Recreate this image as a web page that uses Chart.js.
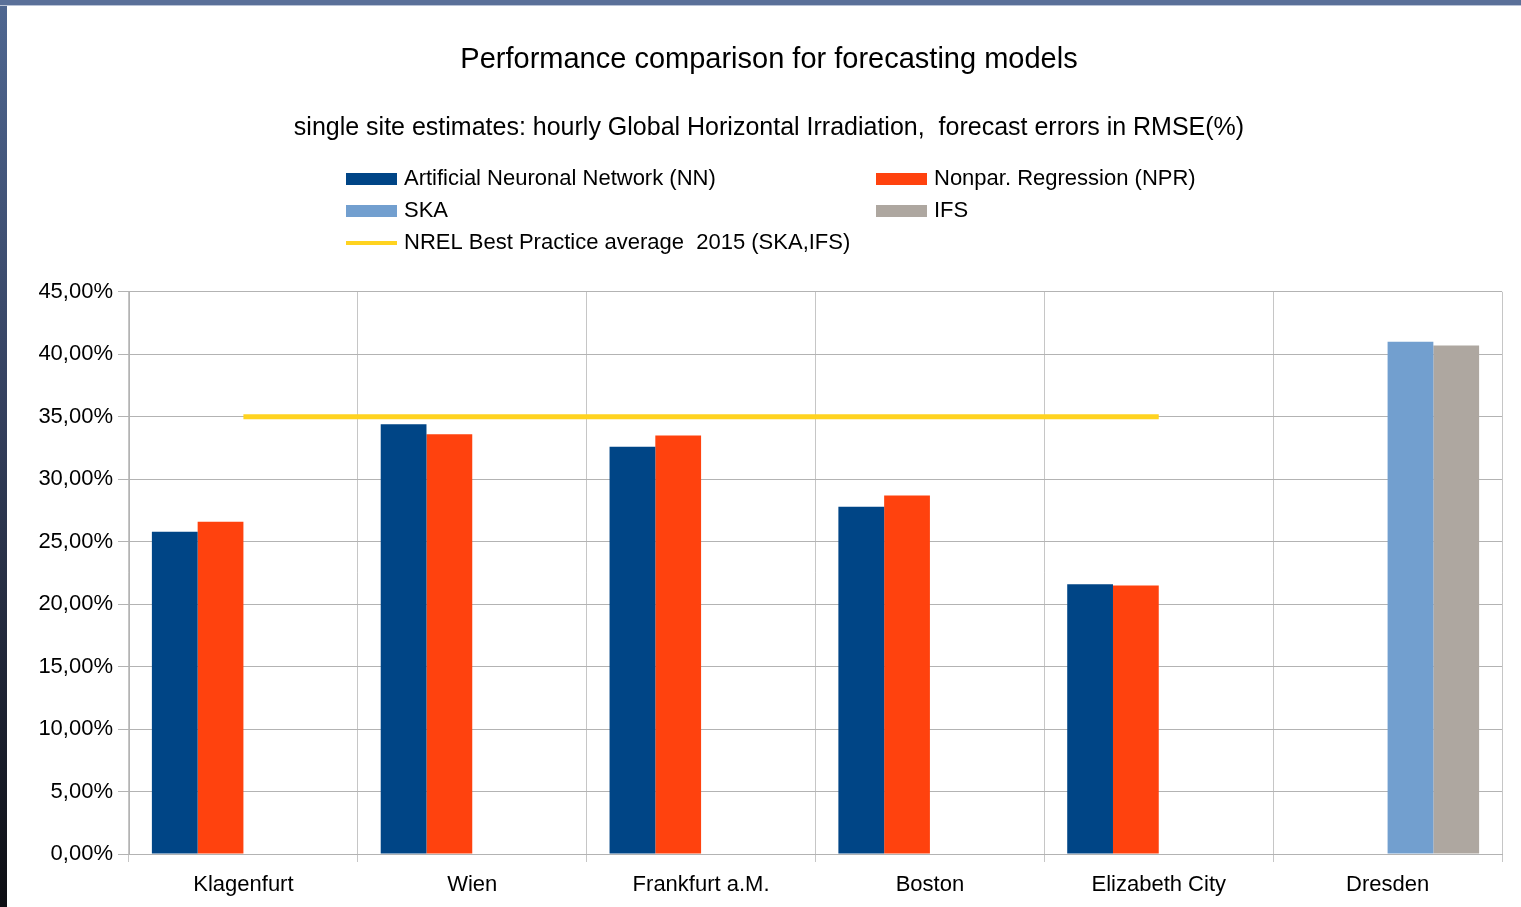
<!DOCTYPE html>
<html>
<head>
<meta charset="utf-8">
<script src="https://cdn.jsdelivr.net/npm/chart.js@4/dist/chart.umd.min.js"></script>
<style>
  body {
    margin: 0;
    width: 1521px;
    height: 907px;
    overflow: hidden;
    position: relative;
    background: linear-gradient(to bottom, #4f6791 0%, #34405e 45%, #0d0e13 100%);
  }
  #topband {
    position: absolute; left: 0; top: 0; width: 1521px; height: 5px;
    background: #5a7099; border-bottom: 1px solid #b9c3d6;
  }
  #wrap {
    position: absolute; left: 7px; top: 6px; width: 1514px; height: 901px;
    background: #fff;
  }
</style>
</head>
<body>
<div id="topband"></div>
<div id="wrap"><canvas id="myChart"></canvas></div>
<script>
const cities = ['Klagenfurt', 'Wien', 'Frankfurt a.M.', 'Boston', 'Elizabeth City', 'Dresden'];

// RMSE in percent
const nnValues = [25.8, 34.4, 32.6, 27.8, 21.6, null];
const nprValues = [26.6, 33.6, 33.5, 28.7, 21.5, null];
const skaValues = [null, null, null, null, null, 41.0];
const ifsValues = [null, null, null, null, null, 40.7];
const nrelValues = [35, 35, 35, 35, 35, null];

const seriesNames = [
    'Artificial Neuronal Network (NN)',
    'Nonpar. Regression (NPR)',
    'SKA',
    'IFS',
    'NREL Best Practice average  2015 (SKA,IFS)'
];

const fontFamily = '"Liberation Sans", Arial, sans-serif';

// legend in two columns like the original
const legendPlugin = {
    id: 'twoColLegend',
    afterDraw(chart) {
        const ctx = chart.ctx;
        const cols = [339, 869];
        const rows = [173, 205, 237];
        const slots = [[0, 0], [1, 0], [0, 1], [1, 1], [0, 2]];
        ctx.save();
        ctx.font = '22px ' + fontFamily;
        ctx.textBaseline = 'middle';
        chart.data.datasets.forEach((ds, i) => {
            const x = cols[slots[i][0]];
            const y = rows[slots[i][1]];
            if (ds.type === 'line') {
                ctx.fillStyle = ds.borderColor;
                ctx.fillRect(x, y - 2, 51, 4);
            } else {
                ctx.fillStyle = ds.backgroundColor;
                ctx.fillRect(x, y - 6, 51, 12);
            }
            ctx.fillStyle = '#000';
            ctx.fillText(ds.label, x + 58, y);
        });
        ctx.restore();
    }
};

const ctx = document.getElementById('myChart');

new Chart(ctx, {
    data: {
        labels: cities,
        datasets: [
            { type: 'bar', label: seriesNames[0], data: nnValues, backgroundColor: '#004586', order: 2 },
            { type: 'bar', label: seriesNames[1], data: nprValues, backgroundColor: '#ff420e', order: 2 },
            { type: 'bar', label: seriesNames[2], data: skaValues, backgroundColor: '#729fcf', order: 2 },
            { type: 'bar', label: seriesNames[3], data: ifsValues, backgroundColor: '#aea7a0', order: 2 },
            {
                type: 'line', label: seriesNames[4], data: nrelValues,
                borderColor: '#ffd320', backgroundColor: '#ffd320',
                borderWidth: 5, pointRadius: 0, spanGaps: false, order: 1
            }
        ]
    },
    options: {
        responsive: true,
        maintainAspectRatio: false,
        animation: false,
        layout: { padding: { left: 29, right: 19, top: 0, bottom: 0 } },
        datasets: {
            bar: { categoryPercentage: 0.8, barPercentage: 1.0 }
        },
        plugins: {
            legend: { display: false },
            tooltip: { enabled: false },
            title: {
                display: true,
                text: 'Performance comparison for forecasting models',
                color: '#000',
                font: { family: fontFamily, size: 29, weight: 'normal' },
                padding: { top: 37, bottom: 0 }
            },
            subtitle: {
                display: true,
                text: 'single site estimates: hourly Global Horizontal Irradiation,  forecast errors in RMSE(%)',
                color: '#000',
                font: { family: fontFamily, size: 25, weight: 'normal' },
                padding: { top: 35, bottom: 149 }
            }
        },
        scales: {
            x: {
                grid: { color: '#c6c6c6', tickLength: 8, offset: true },
                border: { color: '#b3b3b3' },
                ticks: {
                    color: '#000', padding: 10, maxRotation: 0,
                    font: { family: fontFamily, size: 22 }
                },
                afterFit(scale) { scale.height = 53; }
            },
            y: {
                min: 0,
                max: 45,
                grid: { color: '#b3b3b3', tickLength: 11 },
                border: { color: '#b3b3b3' },
                ticks: {
                    stepSize: 5, color: '#000', padding: 5,
                    font: { family: fontFamily, size: 22 },
                    callback: v => v.toFixed(2).replace('.', ',') + '%'
                },
                afterFit(scale) { scale.width = 93; }
            }
        }
    },
    plugins: [legendPlugin]
});
</script>
</body>
</html>
